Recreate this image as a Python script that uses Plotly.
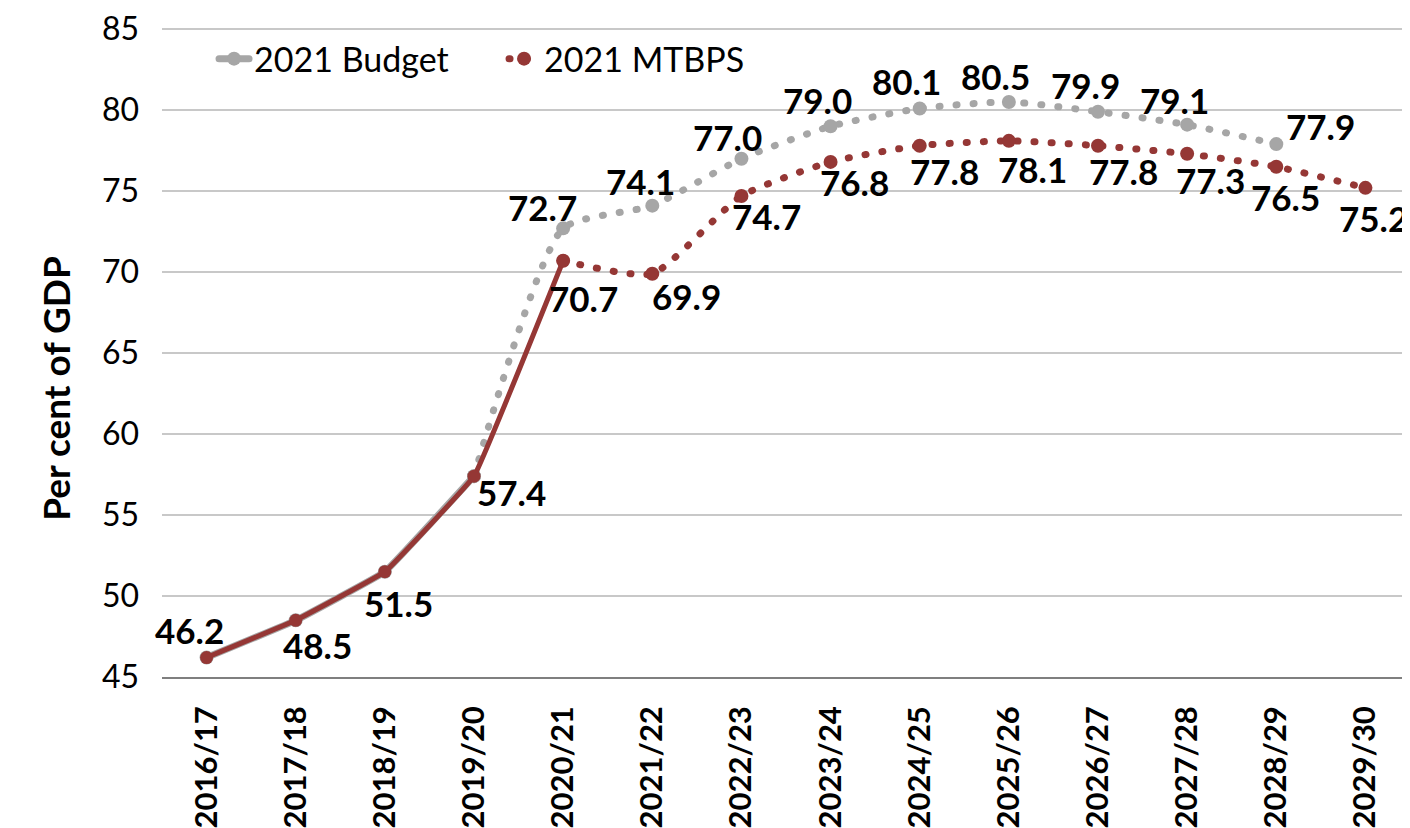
import plotly.graph_objects as go

categories = ["2016/17", "2017/18", "2018/19", "2019/20", "2020/21", "2021/22", "2022/23",
              "2023/24", "2024/25", "2025/26", "2026/27", "2027/28", "2028/29", "2029/30"]
budget_2021 = [46.2, 48.5, 51.5, 57.4, 72.7, 74.1, 77.0, 79.0, 80.1, 80.5, 79.9, 79.1, 77.9, None]
mtbps_2021 = [46.2, 48.5, 51.5, 57.4, 70.7, 69.9, 74.7, 76.8, 77.8, 78.1, 77.8, 77.3, 76.5, 75.2]
y_ticks = [45, 50, 55, 60, 65, 70, 75, 80, 85]

GRAY = "#A6A6A6"
RED = "#953735"
GRID = "#C8C8C8"
FONT = "Lato, 'Open Sans', sans-serif"
LABEL_FONT = dict(family=FONT, size=35, color="#000000", weight="bold")
DOT = "1px,16px"
SMOOTH_SOLID = 0.2
SMOOTH_DOT = 0.55

n_hist = 5  # 2016/17..2020/21 outturn

fig = go.Figure()
# Budget: solid (hidden under outturn) then dotted projections
fig.add_trace(go.Scatter(
    x=categories[:4], y=budget_2021[:4], name="2021 Budget", mode="lines+markers",
    line=dict(color=GRAY, width=7, shape="spline", smoothing=SMOOTH_SOLID),
    marker=dict(size=14, color=GRAY), showlegend=True, legendrank=1))
fig.add_trace(go.Scatter(
    x=categories[3:13], y=budget_2021[3:13], name="2021 Budget", mode="lines+markers",
    line=dict(color=GRAY, width=7, shape="spline", smoothing=SMOOTH_DOT, dash=DOT),
    marker=dict(size=14, color=GRAY), showlegend=False))
# MTBPS: solid outturn then dotted projections
fig.add_trace(go.Scatter(
    x=categories[:n_hist], y=mtbps_2021[:n_hist], name="2021 MTBPS", mode="lines+markers",
    line=dict(color=RED, width=5, shape="spline", smoothing=SMOOTH_SOLID),
    marker=dict(size=13, color=RED), showlegend=False))
fig.add_trace(go.Scatter(
    x=categories[n_hist - 1:], y=mtbps_2021[n_hist - 1:], name="2021 MTBPS", mode="lines+markers",
    line=dict(color=RED, width=7, shape="spline", smoothing=SMOOTH_DOT, dash=DOT),
    marker=dict(size=14, color=RED), showlegend=True, legendrank=2))

# data label offsets (pixels)
budget_offsets = {4: (-21, 21), 5: (-12, 25), 6: (-14, 22), 7: (-13, 26), 8: (-13, 27),
                  9: (-13, 26), 10: (-13, 27), 11: (-13, 25), 12: (44, 18)}
mtbps_offsets = {0: (-17, 28), 1: (22, -25), 2: (14, -31), 3: (37, -16), 4: (20, -37),
                 5: (34, -22), 6: (25, -20), 7: (24, -20), 8: (25, -25), 9: (24, -28),
                 10: (25, -25), 11: (23, -26), 12: (9, -30), 13: (8, -30)}

for i, (dx, dy) in budget_offsets.items():
    fig.add_annotation(x=categories[i], y=budget_2021[i], text=f"{budget_2021[i]:.1f}",
                       showarrow=False, xshift=dx, yshift=dy, font=LABEL_FONT)
for i, (dx, dy) in mtbps_offsets.items():
    fig.add_annotation(x=categories[i], y=mtbps_2021[i], text=f"{mtbps_2021[i]:.1f}",
                       showarrow=False, xshift=dx, yshift=dy, font=LABEL_FONT)

fig.add_annotation(xref="paper", yref="paper", x=-0.105, y=0.44, text="Per cent of GDP",
                   textangle=-90, showarrow=False,
                   font=dict(family=FONT, size=37, color="#000000", weight="bold"))

# top gridline drawn explicitly
fig.add_shape(type="line", xref="paper", x0=0, x1=1, yref="y", y0=y_ticks[-1], y1=y_ticks[-1],
              line=dict(color=GRID, width=2), layer="above")

fig.update_layout(
    width=1402, height=820,
    margin=dict(l=154, r=0, t=8, b=148),
    paper_bgcolor="white", plot_bgcolor="white",
    showlegend=True,
    legend=dict(x=0.0417, y=0.942, xanchor="left", yanchor="middle", orientation="h",
                font=dict(family=FONT, size=34, color="#000000"),
                bgcolor="rgba(0,0,0,0)", entrywidth=245, entrywidthmode="pixels"),
    xaxis=dict(type="category", categoryorder="array", categoryarray=categories,
               range=[-0.5, 13.5], tickangle=-90, showgrid=False,
               showline=True, linecolor="#7F7F7F", linewidth=1.5, ticks="",
               tickfont=dict(family=FONT, size=31, color="#000000", weight="bold"),
               ticklabelstandoff=15),
    yaxis=dict(range=[45, 85.5], tickvals=y_ticks, showgrid=True, gridcolor=GRID, gridwidth=1.5,
               zeroline=False, showline=False, ticks="", ticklabeloverflow="allow",
               tickfont=dict(family=FONT, size=32, color="#000000"),
               ticklabelstandoff=22),
)

post = """
function roundCaps(){
  document.querySelectorAll('.js-line').forEach(function(p){p.style.strokeLinecap='round';});
}
roundCaps();
var gd = document.getElementById('{plot_id}');
if (gd && gd.on) { gd.on('plotly_afterplot', roundCaps); }
"""

fig.write_html("out.html", post_script=post)
